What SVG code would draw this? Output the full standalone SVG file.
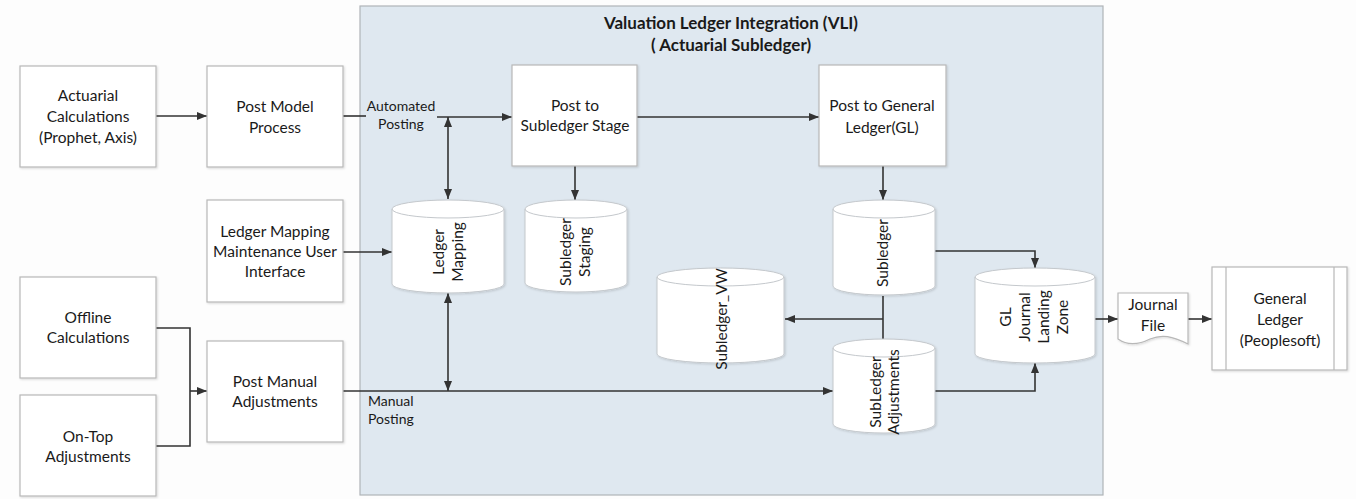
<svg xmlns="http://www.w3.org/2000/svg" width="1356" height="499" viewBox="0 0 1356 499">
  <defs>
    <marker id="arrow" viewBox="0 0 10 8" refX="10" refY="4" markerWidth="10" markerHeight="8" markerUnits="userSpaceOnUse" orient="auto-start-reverse">
      <path d="M0,0 L10,4 L0,8 Z" fill="#333"/>
    </marker>
    <filter id="shadow" x="-10%" y="-10%" width="120%" height="120%">
      <feDropShadow dx="1" dy="1" stdDeviation="1" flood-color="#000" flood-opacity="0.15"/>
    </filter>
  </defs>
  <style>
    .box { fill: #fff; stroke: #b8b8b8; stroke-width: 1.2; filter: url(#shadow); }
    .cyl { fill: #fff; stroke: #c4c8cc; stroke-width: 1; filter: url(#shadow); }
    .cyl-rim { fill: none; stroke: #c4c8cc; stroke-width: 1; }
    .lbl { font-family: Lato, "Open Sans", "Liberation Sans", sans-serif; font-size: 15.5px; fill: #1a1a1a; text-anchor: middle; }
    .small { font-family: Lato, "Open Sans", "Liberation Sans", sans-serif; font-size: 14px; fill: #1a1a1a; }
    .title { font-family: Lato, "Open Sans", "Liberation Sans", sans-serif; font-size: 17px; font-weight: bold; fill: #1a1a1a; text-anchor: middle; }
    .conn { fill: none; stroke: #333; stroke-width: 1.6; }
  </style>

  <rect width="1356" height="499" fill="#fdfdfd"/>

  <!-- VLI container -->
  <g id="vli">
    <rect x="360" y="6" width="743" height="489" fill="#dfe8f0" stroke="#b0b4b8" stroke-width="1.2"/>
    <text class="title" x="731" y="29">Valuation Ledger Integration (VLI)</text>
    <text class="title" x="731" y="51">( Actuarial Subledger)</text>
  </g>

  <!-- connectors -->
  <g id="connectors">
    <line class="conn" x1="156" y1="116" x2="207" y2="116" marker-end="url(#arrow)"/>
    <line class="conn" x1="343" y1="116" x2="366" y2="116"/>
    <line class="conn" x1="437" y1="117" x2="512" y2="117" marker-end="url(#arrow)"/>
    <line class="conn" x1="448" y1="117" x2="448" y2="199" marker-start="url(#arrow)" marker-end="url(#arrow)"/>
    <line class="conn" x1="637" y1="117" x2="819" y2="117" marker-end="url(#arrow)"/>
    <line class="conn" x1="575" y1="166" x2="575" y2="200" marker-end="url(#arrow)"/>
    <line class="conn" x1="883" y1="166" x2="883" y2="200" marker-end="url(#arrow)"/>
    <line class="conn" x1="343" y1="252" x2="392" y2="252" marker-end="url(#arrow)"/>
    <line class="conn" x1="448" y1="293" x2="448" y2="391" marker-start="url(#arrow)" marker-end="url(#arrow)"/>
    <polyline class="conn" points="156,328 190,328 190,446 156,446"/>
    <line class="conn" x1="190" y1="391" x2="207" y2="391" marker-end="url(#arrow)"/>
    <line class="conn" x1="343" y1="391" x2="833" y2="391" marker-end="url(#arrow)"/>
    <line class="conn" x1="883" y1="296" x2="883" y2="339"/>
    <line class="conn" x1="883" y1="319" x2="785" y2="319" marker-end="url(#arrow)"/>
    <polyline class="conn" points="935,251 1035,251 1035,268" marker-end="url(#arrow)"/>
    <polyline class="conn" points="935,391 1035,391 1035,363" marker-end="url(#arrow)"/>
    <line class="conn" x1="1095" y1="319" x2="1118" y2="319" marker-end="url(#arrow)"/>
    <line class="conn" x1="1188" y1="319" x2="1212" y2="319" marker-end="url(#arrow)"/>
  </g>

  <!-- process boxes -->
  <g id="actuarial-calculations">
    <rect class="box" x="20" y="66" width="136" height="101"/>
    <text class="lbl" x="88" y="101">Actuarial</text>
    <text class="lbl" x="88" y="122">Calculations</text>
    <text class="lbl" x="88" y="143">(Prophet, Axis)</text>
  </g>
  <g id="post-model-process">
    <rect class="box" x="207" y="66" width="136" height="101"/>
    <text class="lbl" x="275" y="112">Post Model</text>
    <text class="lbl" x="275" y="133">Process</text>
  </g>
  <g id="ledger-mapping-ui">
    <rect class="box" x="207" y="200" width="136" height="102"/>
    <text class="lbl" x="275" y="237">Ledger Mapping</text>
    <text class="lbl" x="275" y="257">Maintenance User</text>
    <text class="lbl" x="275" y="277">Interface</text>
  </g>
  <g id="offline-calculations">
    <rect class="box" x="20" y="277" width="136" height="101"/>
    <text class="lbl" x="88" y="323">Offline</text>
    <text class="lbl" x="88" y="343">Calculations</text>
  </g>
  <g id="on-top-adjustments">
    <rect class="box" x="20" y="395" width="136" height="101"/>
    <text class="lbl" x="88" y="442">On-Top</text>
    <text class="lbl" x="88" y="462">Adjustments</text>
  </g>
  <g id="post-manual-adjustments">
    <rect class="box" x="207" y="341" width="136" height="101"/>
    <text class="lbl" x="275" y="387">Post Manual</text>
    <text class="lbl" x="275" y="407">Adjustments</text>
  </g>
  <g id="post-to-subledger-stage">
    <rect class="box" x="512" y="65" width="125" height="101"/>
    <text class="lbl" x="575" y="111">Post to</text>
    <text class="lbl" x="575" y="131">Subledger Stage</text>
  </g>
  <g id="post-to-general-ledger">
    <rect class="box" x="819" y="65" width="127" height="101"/>
    <text class="lbl" x="882" y="111">Post to General</text>
    <text class="lbl" x="882" y="133">Ledger(GL)</text>
  </g>

  <!-- edge labels -->
  <g id="edge-labels">
    <text class="small" x="401" y="111" text-anchor="middle">Automated</text>
    <text class="small" x="401" y="129" text-anchor="middle">Posting</text>
    <text class="small" x="368" y="406">Manual</text>
    <text class="small" x="368" y="424">Posting</text>
  </g>

  <!-- data stores -->
  <g id="ledger-mapping">
    <path class="cyl" d="M392,209 A56,9 0 0 1 504,209 V284 A56,9 0 0 1 392,284 Z"/>
    <path class="cyl-rim" d="M392,209 A56,9 0 0 0 504,209"/>
    <text class="lbl" transform="translate(448,252) rotate(-90)"><tspan x="0" y="-4">Ledger</tspan><tspan x="0" y="15">Mapping</tspan></text>
  </g>
  <g id="subledger-staging">
    <path class="cyl" d="M525,209 A51,9 0 0 1 627,209 V283 A51,9 0 0 1 525,283 Z"/>
    <path class="cyl-rim" d="M525,209 A51,9 0 0 0 627,209"/>
    <text class="lbl" transform="translate(576,252) rotate(-90)"><tspan x="0" y="-5">Subledger</tspan><tspan x="0" y="14">Staging</tspan></text>
  </g>
  <g id="subledger">
    <path class="cyl" d="M833,209 A51,9 0 0 1 935,209 V286 A51,9 0 0 1 833,286 Z"/>
    <path class="cyl-rim" d="M833,209 A51,9 0 0 0 935,209"/>
    <text class="lbl" transform="translate(883,253) rotate(-90)"><tspan x="0" y="5">Subledger</tspan></text>
  </g>
  <g id="subledger-vw">
    <path class="cyl" d="M657,277 A63.5,9 0 0 1 784,277 V354 A63.5,9 0 0 1 657,354 Z"/>
    <path class="cyl-rim" d="M657,277 A63.5,9 0 0 0 784,277"/>
    <text class="lbl" transform="translate(722,319) rotate(-90)"><tspan x="0" y="5">Subledger_VW</tspan></text>
  </g>
  <g id="subledger-adjustments">
    <path class="cyl" d="M833,348 A51,9 0 0 1 935,348 V424 A51,9 0 0 1 833,424 Z"/>
    <path class="cyl-rim" d="M833,348 A51,9 0 0 0 935,348"/>
    <text class="lbl" transform="translate(884,392) rotate(-90)"><tspan x="0" y="-3">SubLedger</tspan><tspan x="0" y="15">Adjustments</tspan></text>
  </g>
  <g id="gl-journal-landing-zone">
    <path class="cyl" d="M975,277 A60,9 0 0 1 1095,277 V354 A60,9 0 0 1 975,354 Z"/>
    <path class="cyl-rim" d="M975,277 A60,9 0 0 0 1095,277"/>
    <text class="lbl" transform="translate(1035,317) rotate(-90)"><tspan x="0" y="-24">GL</tspan><tspan x="0" y="-5">Journal</tspan><tspan x="0" y="14">Landing</tspan><tspan x="0" y="33">Zone</tspan></text>
  </g>

  <!-- output -->
  <g id="journal-file">
    <path class="box" d="M1118,293 H1188 V344 C1172,336 1162,334 1150,339 C1138,345 1128,346 1118,339 Z"/>
    <text class="lbl" x="1153" y="310">Journal</text>
    <text class="lbl" x="1153" y="331">File</text>
  </g>
  <g id="general-ledger">
    <rect class="box" x="1212" y="267" width="135" height="103"/>
    <line x1="1226" y1="267" x2="1226" y2="370" stroke="#b8b8b8" stroke-width="1.2"/>
    <line x1="1334" y1="267" x2="1334" y2="370" stroke="#b8b8b8" stroke-width="1.2"/>
    <text class="lbl" x="1280" y="304">General</text>
    <text class="lbl" x="1280" y="325">Ledger</text>
    <text class="lbl" x="1280" y="346">(Peoplesoft)</text>
  </g>
</svg>
